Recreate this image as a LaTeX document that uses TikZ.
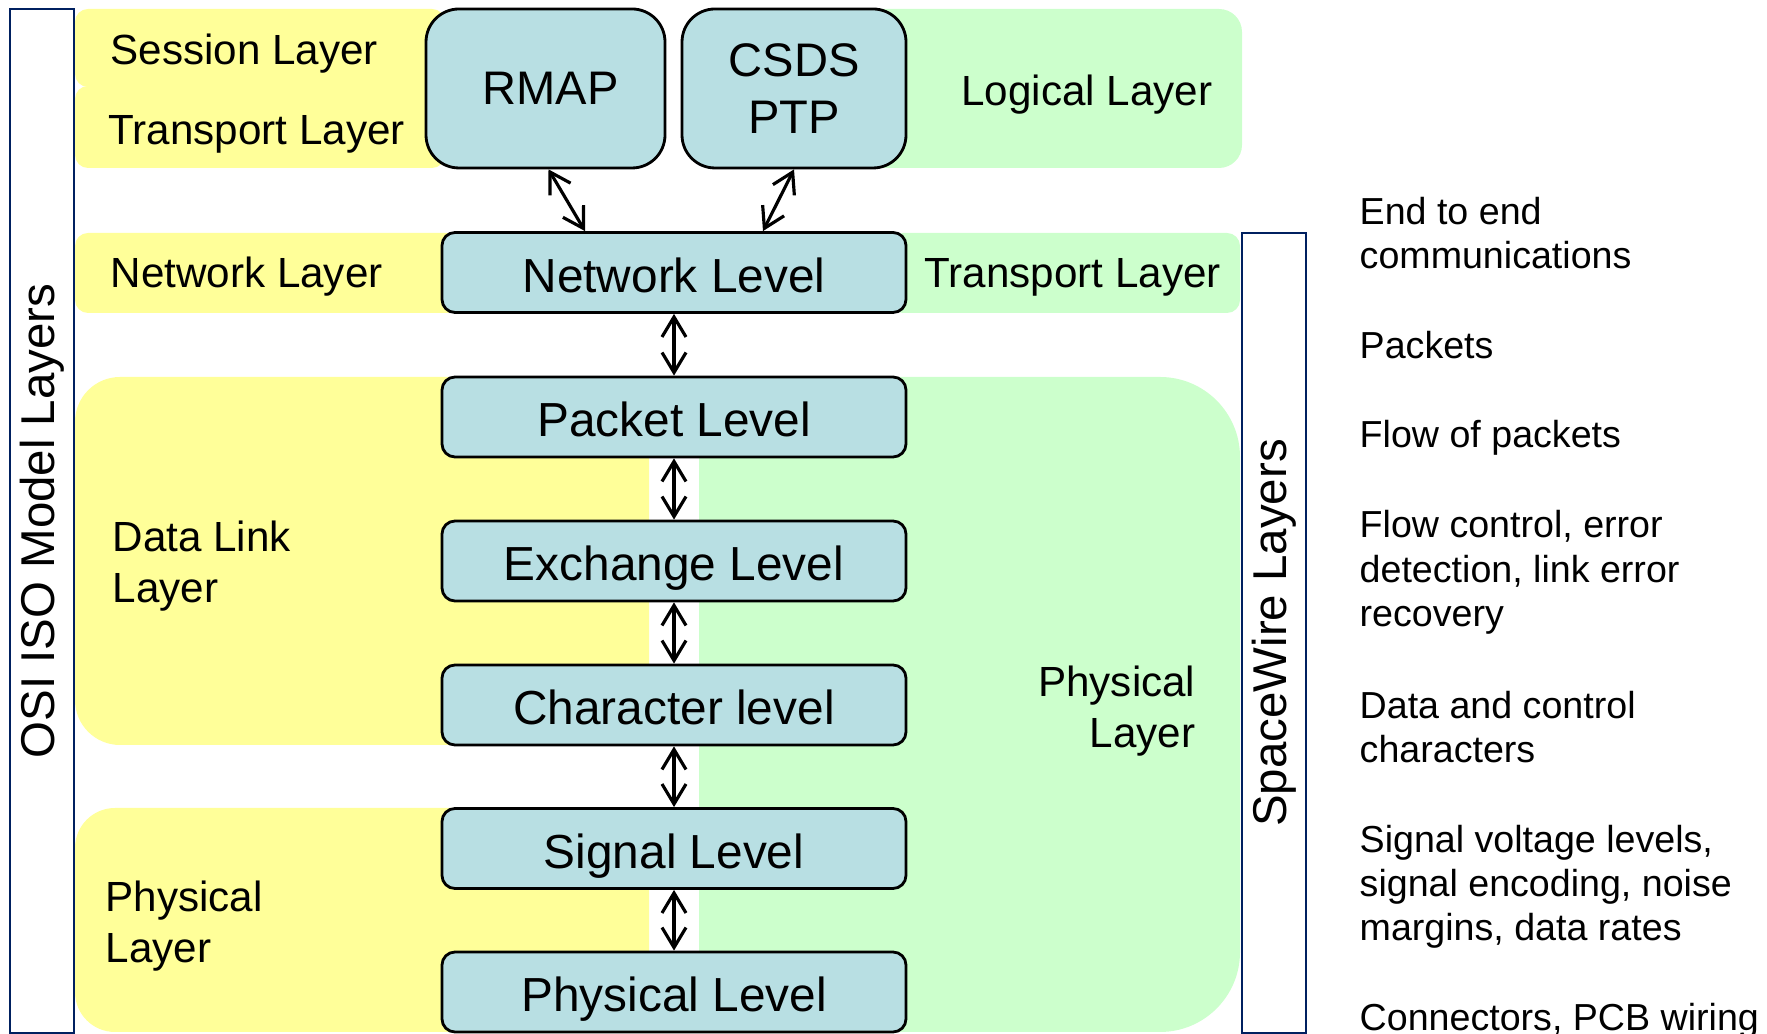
\documentclass[tikz,border=0pt]{standalone}
\usepackage{fontspec}
\setmainfont{Liberation Sans}
\usetikzlibrary{arrows.meta}
\definecolor{osiyellow}{HTML}{FFFF99}
\definecolor{swgreen}{HTML}{CCFFCC}
\definecolor{levelblue}{HTML}{B8DFE3}
\definecolor{framenavy}{HTML}{002060}

\begin{document}
\begin{tikzpicture}[
  level/.style={draw, fill=levelblue, line width=0.8pt, rounded corners=0.13cm,
    minimum width=4.64cm, minimum height=0.8cm, inner sep=0pt,
    text height=0.4cm, text depth=0pt,
    font=\fontsize{13.6pt}{16pt}\selectfont},
  proto/.style={draw, fill=levelblue, line width=0.8pt, rounded corners=0.33cm,
    minimum height=1.59cm, inner sep=0pt, align=center,
    font=\fontsize{13.4pt}{16.2pt}\selectfont},
  layer/.style={anchor=base west, align=left, inner sep=0pt,
    font=\fontsize{12pt}{14.6pt}\selectfont},
  frame/.style={draw=framenavy, line width=0.7pt, rotate=90, minimum height=0.64cm,
    inner sep=0pt, font=\fontsize{13.5pt}{16pt}\selectfont},
  note/.style={anchor=base west, align=left, inner sep=0pt,
    font=\fontsize{10.7pt}{12.66pt}\selectfont},
  link/.style={<->, >={Straight Barb[length=0.2cm,width=0.24cm]}, line width=0.9pt}
]
\useasboundingbox (0,0) rectangle (17.67,10.34);

% OSI bands (yellow)
\fill[osiyellow, rounded corners=0.13cm] (0.75,10.25) rectangle (4.45,9.47);
\fill[osiyellow, rounded corners=0.13cm] (0.75,9.48) rectangle (4.45,8.66);
\fill[osiyellow, rounded corners=0.13cm] (0.75,8.01) rectangle (4.6,7.21);
\fill[osiyellow, rounded corners=0.45cm] (0.75,6.57) rectangle (6.49,2.89);
\fill[osiyellow] (3,6.57) rectangle (6.49,2.89);
\fill[osiyellow, rounded corners=0.4cm] (0.75,2.26) rectangle (6.49,0.02);
\fill[osiyellow] (3,2.26) rectangle (6.49,0.02);

% SpaceWire bands (green)
\fill[swgreen, rounded corners=0.23cm] (8.5,10.25) rectangle (12.42,8.66);
\fill[swgreen, rounded corners=0.13cm] (8.9,8.01) rectangle (12.40,7.21);
\fill[swgreen, rounded corners=0.8cm] (6.99,6.57) rectangle (12.40,0.02);
\fill[swgreen] (6.99,6.57) rectangle (9,0.02);

% frames
\node[frame, minimum width=10.24cm] (osi) at (0.42,5.13) {OSI ISO Model Layers};
\node[frame, minimum width=8.0cm] (spacewire) at (12.74,4.01) {SpaceWire Layers};

% protocol boxes
\node[proto, minimum width=2.39cm] (rmap) at (5.455,9.455) {\hspace{0.1cm}RMAP};
\node[proto, minimum width=2.24cm] (ptp) at (7.94,9.455) {CSDS\\PTP};

% SpaceWire levels
\node[level] (network) at (6.74,7.615) {Network Level};
\node[level] (packet) at (6.74,6.17) {Packet Level};
\node[level] (exchange) at (6.74,4.73) {Exchange Level};
\node[level] (character) at (6.74,3.29) {Character level};
\node[level] (signal) at (6.74,1.855) {Signal Level};
\node[level] (physical) at (6.74,0.42) {Physical Level};

\draw[link] ([xshift=0.03cm]rmap.south) -- ([xshift=-0.89cm]network.north);
\draw[link] (ptp.south) -- ([xshift=0.89cm]network.north);
\draw[link] (network) -- (packet);
\draw[link] (packet) -- (exchange);
\draw[link] (exchange) -- (character);
\draw[link] (character) -- (signal);
\draw[link] (signal) -- (physical);

% layer names (multi-line ones sit on the baseline of their last line)
\node[layer] (session) at (1.10,9.69) {Session Layer};
\node[layer] (transport) at (1.08,8.89) {Transport Layer};
\node[layer] (netlayer) at (1.10,7.46) {Network Layer};
\node[layer, anchor=base east] (logical) at (12.13,9.28) {Logical Layer};
\node[layer] (swtransport) at (9.24,7.46) {Transport Layer};
\node[layer] (datalink) at (1.12,4.31) {Data Link\\Layer};
\node[layer] (osiphys) at (1.05,0.71) {Physical\\Layer};
\node[layer, anchor=base east, align=right] (swphys) at (11.96,2.86) {Physical\\Layer};

% what each level does
\node[note] (endtoend) at (13.59,7.65) {End to end\\communications};
\node[note] (packets) at (13.59,6.75) {Packets};
\node[note] (flow) at (13.59,5.86) {Flow of packets};
\node[note] (control) at (13.59,4.07) {Flow control, error\\detection, link error\\recovery};
\node[note] (chars) at (13.59,2.71) {Data and control\\characters};
\node[note] (voltage) at (13.59,0.93) {Signal voltage levels,\\signal encoding, noise\\margins, data rates};
\node[note] (wiring) at (13.59,0.03) {Connectors, PCB wiring};

\end{tikzpicture}
\end{document}
